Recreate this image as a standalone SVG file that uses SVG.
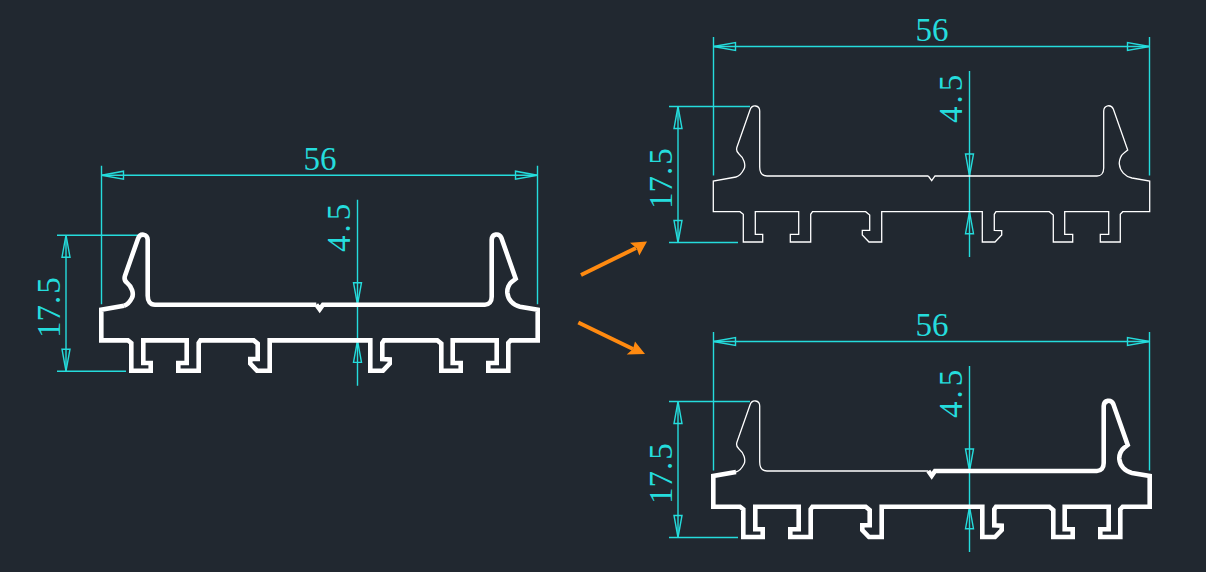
<svg xmlns="http://www.w3.org/2000/svg" xmlns:xlink="http://www.w3.org/1999/xlink" width="1206" height="572" viewBox="0 0 1206 572">
<style>
.bg{fill:#212830}
.thin{fill:none;stroke:#fff;stroke-width:1.3;stroke-linejoin:miter}
.thick{fill:none;stroke:#fff;stroke-width:4.6;stroke-linejoin:miter}
.dim{fill:none;stroke:#25dcdc;stroke-width:1.4}
.t{fill:#25dcdc;font-family:"Liberation Serif","Times New Roman",serif;font-size:33px}
.arr{fill:none;stroke:#ff8a10;stroke-width:4}
.head{fill:#ff8a10}
</style>
<defs>
<path id="edgeA" d="M736 177L713.3 181V211.7H740L743.3 214.3V242H762.7V234.3H755.3V211.7H798.7V234.3H790.3V242H810.7V214.3L812.5 211.7H865.7L869.7 215V230.3H862.3V235L869 242H881.7V211.7H982.3V242H995L1001.7 235V230.7L994.3 230.3V214.3L996 211.7H1049.3L1053.3 215V242H1072.7V234.3H1064.7V211.7H1108.7V234.3H1100.3V242H1120.3V214.3L1122.7 211.7H1149.7V181L1132 178C1125 176.5 1120 171 1119.3 164C1119 160 1121 155 1124 153L1127.7 150L1113.3 109C1111 104 1104 105 1103.7 111V168C1103.7 173 1101 176 1097 176H935L931.7 180.7L928.3 176"/>
<path id="edgeB" d="M928.3 176H767C762 176 759.7 172 759.7 167V111C759.7 105 752 104 750 110L737 147C736 150 736.5 152 739 154C744 158 746 165 744 169C742 173 740 176 736 177"/>
<path id="tick" d="M0 0L22 -4V4Z"/>
<g id="dims">
<path class="dim" d="M713.5 37V175.5M1149.5 37V175.5M713.5 46.5H1149.5M669 106.5H750M669 242.5H738M678 106.5V242.5M969.5 71V257"/>
<use href="#tick" class="dim" transform="translate(713.5 46.5)"/>
<use href="#tick" class="dim" transform="translate(1149.5 46.5) rotate(180)"/>
<use href="#tick" class="dim" transform="translate(678 106.5) rotate(90)"/>
<use href="#tick" class="dim" transform="translate(678 242.5) rotate(-90)"/>
<use href="#tick" class="dim" transform="translate(969.5 176) rotate(-90)"/>
<use href="#tick" class="dim" transform="translate(969.5 211.7) rotate(90)"/>
</g>
</defs>
<rect class="bg" width="1206" height="572"/>
<g id="connectors">
<path class="arr" d="M581 275L636 248"/>
<path class="head" d="M647 241.5L639.3 255.5L636.7 248.3L630 242.7Z"/>
<path class="arr" d="M578.3 322.5L633 349"/>
<path class="head" d="M645 354L626.7 354.5L633 349L635 341.5Z"/>
</g>
<g id="profile-source" transform="translate(-612 128.7)">
<use href="#dims"/>
<use href="#edgeA" class="thick"/>
<use href="#edgeB" class="thick"/>
</g>
<g id="profile-result-thin">
<use href="#dims"/>
<use href="#edgeA" class="thin"/>
<use href="#edgeB" class="thin"/>
</g>
<g id="profile-result-mixed" transform="translate(0 295)">
<use href="#dims"/>
<use href="#edgeA" class="thick"/>
<use href="#edgeB" class="thin"/>
</g>
<g id="labels">
<text class="t" x="320" y="170" text-anchor="middle">56</text>
<text class="t" x="932" y="41" text-anchor="middle">56</text>
<text class="t" x="932" y="336" text-anchor="middle">56</text>
<text class="t" dx="0 0 1 2" transform="translate(60 338) rotate(-90)">17.5</text>
<text class="t" dx="0 0 1 2" transform="translate(672 209) rotate(-90)">17.5</text>
<text class="t" dx="0 0 1 2" transform="translate(672 504) rotate(-90)">17.5</text>
<text class="t" dx="0 3 4" transform="translate(350 252) rotate(-90)">4.5</text>
<text class="t" dx="0 3 4" transform="translate(962 123) rotate(-90)">4.5</text>
<text class="t" dx="0 3 4" transform="translate(962 418) rotate(-90)">4.5</text>
</g>
</svg>
